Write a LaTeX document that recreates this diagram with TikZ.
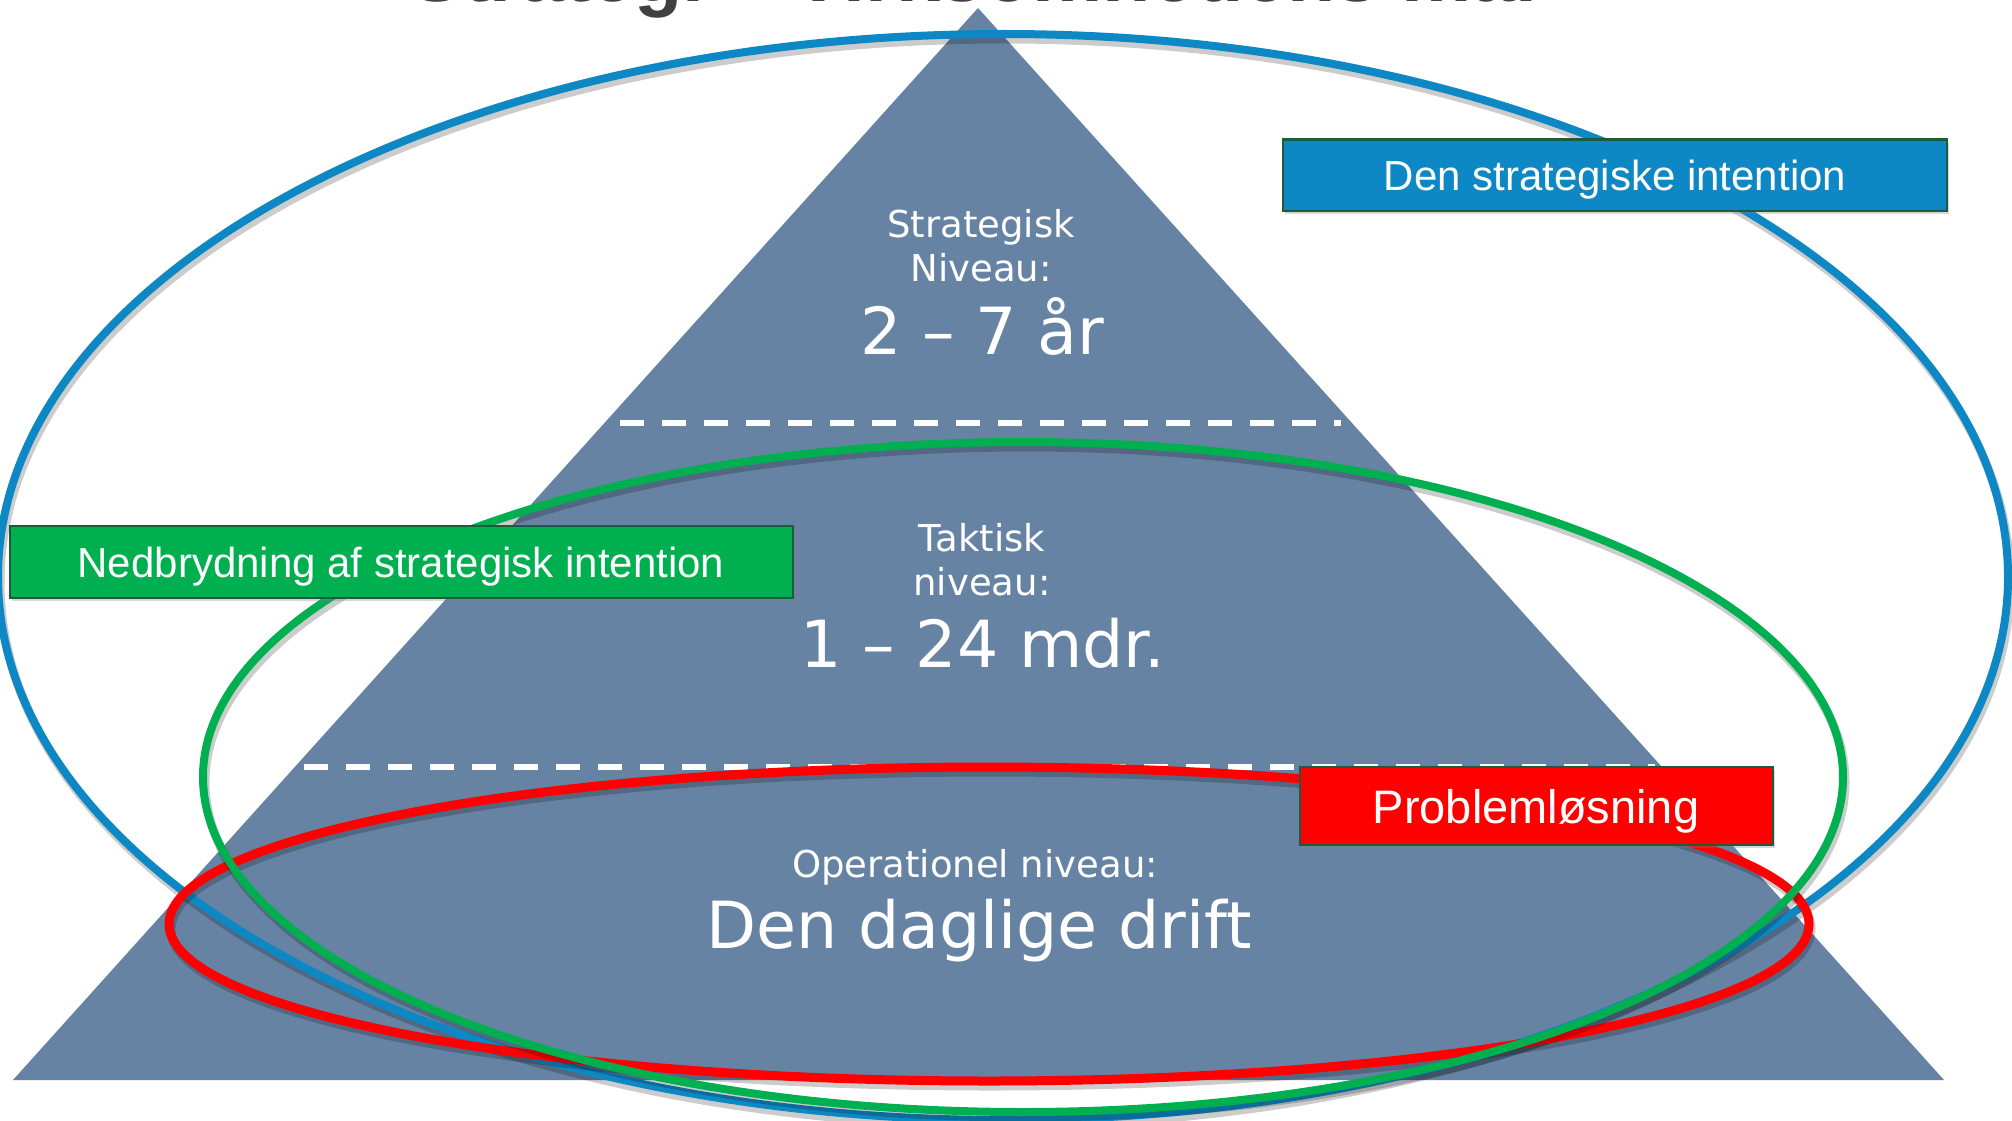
\documentclass[tikz,border=0pt]{standalone}
\usepackage{fontspec}
\setmainfont{Liberation Sans}
\newfontfamily\pyrfont{DejaVu Sans}
\usepackage{tikz}
\usepackage{xcolor}
\usetikzlibrary{shapes}
\usetikzlibrary{shadows}

\definecolor{pyrblue}{RGB}{103,131,163}
\definecolor{intblue}{RGB}{14,136,196}
\definecolor{intgreen}{RGB}{0,176,80}
\definecolor{intred}{RGB}{255,0,0}
\definecolor{boxedge}{RGB}{30,90,60}
\definecolor{titlegray}{RGB}{64,64,64}

\tikzset{
  levelsmall/.style={text=white, font=\pyrfont\fontsize{37}{44}\selectfont, align=center, inner sep=0pt, anchor=base},
  levelbig/.style={text=white, font=\pyrfont\fontsize{65}{78}\selectfont, inner sep=0pt, anchor=base},
  levelline/.style={draw=white, line width=6pt, dash pattern=on 24pt off 18pt},
  ring/.style={line width=8pt},
  ringshadow/.style={draw=black, opacity=0.2, line width=9pt},
  tagbox/.style={draw=boxedge, line width=2pt, text=white, inner sep=0pt,
    font=\fontsize{42}{50}\selectfont, text height=30pt, text depth=0pt,
    drop shadow={opacity=0.3, shadow xshift=2pt, shadow yshift=-3pt}}
}

\begin{document}
\begin{tikzpicture}[x=1pt, y=-1pt]
\useasboundingbox (0,0) rectangle (2012,1121);
\clip (0,0) rectangle (2012,1121);
\fill[white] (0,0) rectangle (2012,1121);

% title, only its lower edge is left on the page
\node (title) at (974,2) [anchor=base, inner sep=0pt, text=titlegray,
  font=\bfseries\fontsize{79}{90}\selectfont] {Strategi – Virksomhedens mål};

% pyramid
\fill[pyrblue] (978,8) -- (1944,1080) -- (13,1080) -- cycle;
\draw[levelline] (620,423) -- (1341,423);
\draw[levelline] (304,767) -- (1655,767);

\node (strat) at (981,281) [levelsmall] {Strategisk\\Niveau:};
\node (stratTime) at (982,354) [levelbig] {2 – 7 år};
\node (takt) at (982,595) [levelsmall] {Taktisk\\niveau:};
\node (taktTime) at (983,667) [levelbig] {1 – 24 mdr.};
\node (oper) at (975,877) [levelsmall] {Operationel niveau:};
\node (operTime) at (979,948) [levelbig] {Den daglige drift};

% rings
\draw[ringshadow] (1005,582) ellipse [x radius=1005pt, y radius=543pt];
\draw[ring, intblue] (1003,577) ellipse [x radius=1005pt, y radius=543pt];
\draw[ringshadow] (991,929) ellipse [x radius=820pt, y radius=157pt];
\draw[ring, intred, line width=9pt] (989,924) ellipse [x radius=820pt, y radius=157pt];
\draw[ringshadow] (1025,782) ellipse [x radius=820pt, y radius=335pt];
\draw[ring, intgreen] (1023,777) ellipse [x radius=820pt, y radius=335pt];

% labels
\node (intention) at (1615,175) [tagbox, fill=intblue, minimum width=664pt, minimum height=71pt]
  {Den strategiske intention};
\node (breakdown) at (401,562) [tagbox, fill=intgreen, minimum width=783pt, minimum height=72pt]
  {Nedbrydning af strategisk intention};
\node (problem) at (1536,806) [tagbox, fill=intred, minimum width=473pt, minimum height=78pt,
  font=\fontsize{47}{56}\selectfont, text height=34pt] {Problemløsning};
\end{tikzpicture}
\end{document}
